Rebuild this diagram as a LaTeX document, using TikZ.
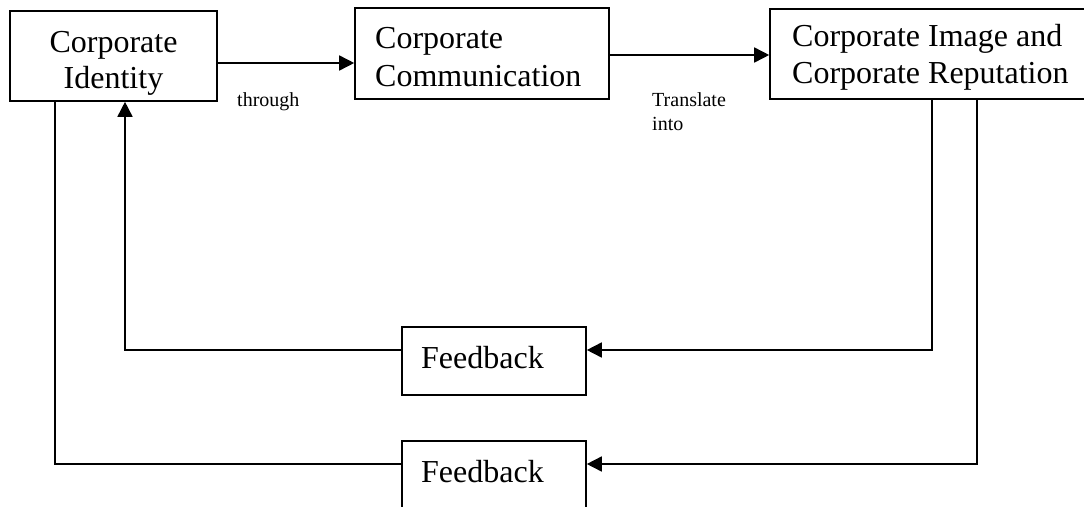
\documentclass[tikz,border=0pt]{standalone}
\usepackage{fontspec}
\setmainfont{Liberation Serif}
\usetikzlibrary{arrows.meta}
\begin{document}
\begin{tikzpicture}[x=1pt,y=-1pt,
  box/.style={draw, line width=1.6pt, inner sep=0pt, rectangle},
  big/.style={inner sep=0pt, font=\fontsize{32}{37}\selectfont},
  small/.style={inner sep=0pt, font=\fontsize{20}{24}\selectfont},
  conn/.style={line width=1.6pt},
  arr/.style={conn, -{Triangle[length=15pt,width=15pt]}}]
\clip (0,0) rectangle (1084,506);
\fill[white] (0,0) rectangle (1084,506);
% boxes
\node[box, minimum width=207pt, minimum height=90pt] (b1) at (113.5,56) {};
\node[box, minimum width=254pt, minimum height=91pt] (b2) at (482,53.5) {};
\node[box, minimum width=325pt, minimum height=90pt] (b3) at (932.5,54) {};
\node[box, minimum width=184pt, minimum height=68pt] (f1) at (494,361) {};
\node[box, minimum width=184pt, minimum height=80pt] (f2) at (494,481) {};
% texts
\node[big, anchor=base] (t1a) at (113.5,52) {Corporate};
\node[big, anchor=base] (t1b) at (113.5,88) {Identity};
\node[big, anchor=base west] (t2a) at (375,48) {Corporate};
\node[big, anchor=base west] (t2b) at (375,86) {Communication};
\node[big, anchor=base west] (t3a) at (792,46) {Corporate Image and};
\node[big, anchor=base west] (t3b) at (792,83) {Corporate Reputation};
\node[big, anchor=base west] (tf1) at (421,368) {Feedback};
\node[big, anchor=base west] (tf2) at (421,482) {Feedback};
\node[small, anchor=base west] (l1) at (237,106) {through};
\node[small, anchor=base west] (l2a) at (652,106) {Translate};
\node[small, anchor=base west] (l2b) at (652,130) {into};
% helper coordinates
\coordinate (ya) at (0,63);
\coordinate (yb) at (0,55);
\coordinate (yc) at (0,350);
\coordinate (yd) at (0,464);
\coordinate (xa) at (932,0);
\coordinate (xb) at (977,0);
\coordinate (xc) at (125,0);
\coordinate (xd) at (55,0);
% connectors
\draw[arr] (b1.east |- ya) -- (b2.west |- ya);
\draw[arr] (b2.east |- yb) -- (b3.west |- yb);
\draw[arr] (b3.south -| xa) -- (xa |- yc) -- (f1.east |- yc);
\draw[arr] (f1.west |- yc) -- (xc |- yc) -- (b1.south -| xc);
\draw[arr] (b3.south -| xb) -- (xb |- yd) -- (f2.east |- yd);
\draw[conn] (f2.west |- yd) -- (xd |- yd) -- (b1.south -| xd);
\end{tikzpicture}
\end{document}
